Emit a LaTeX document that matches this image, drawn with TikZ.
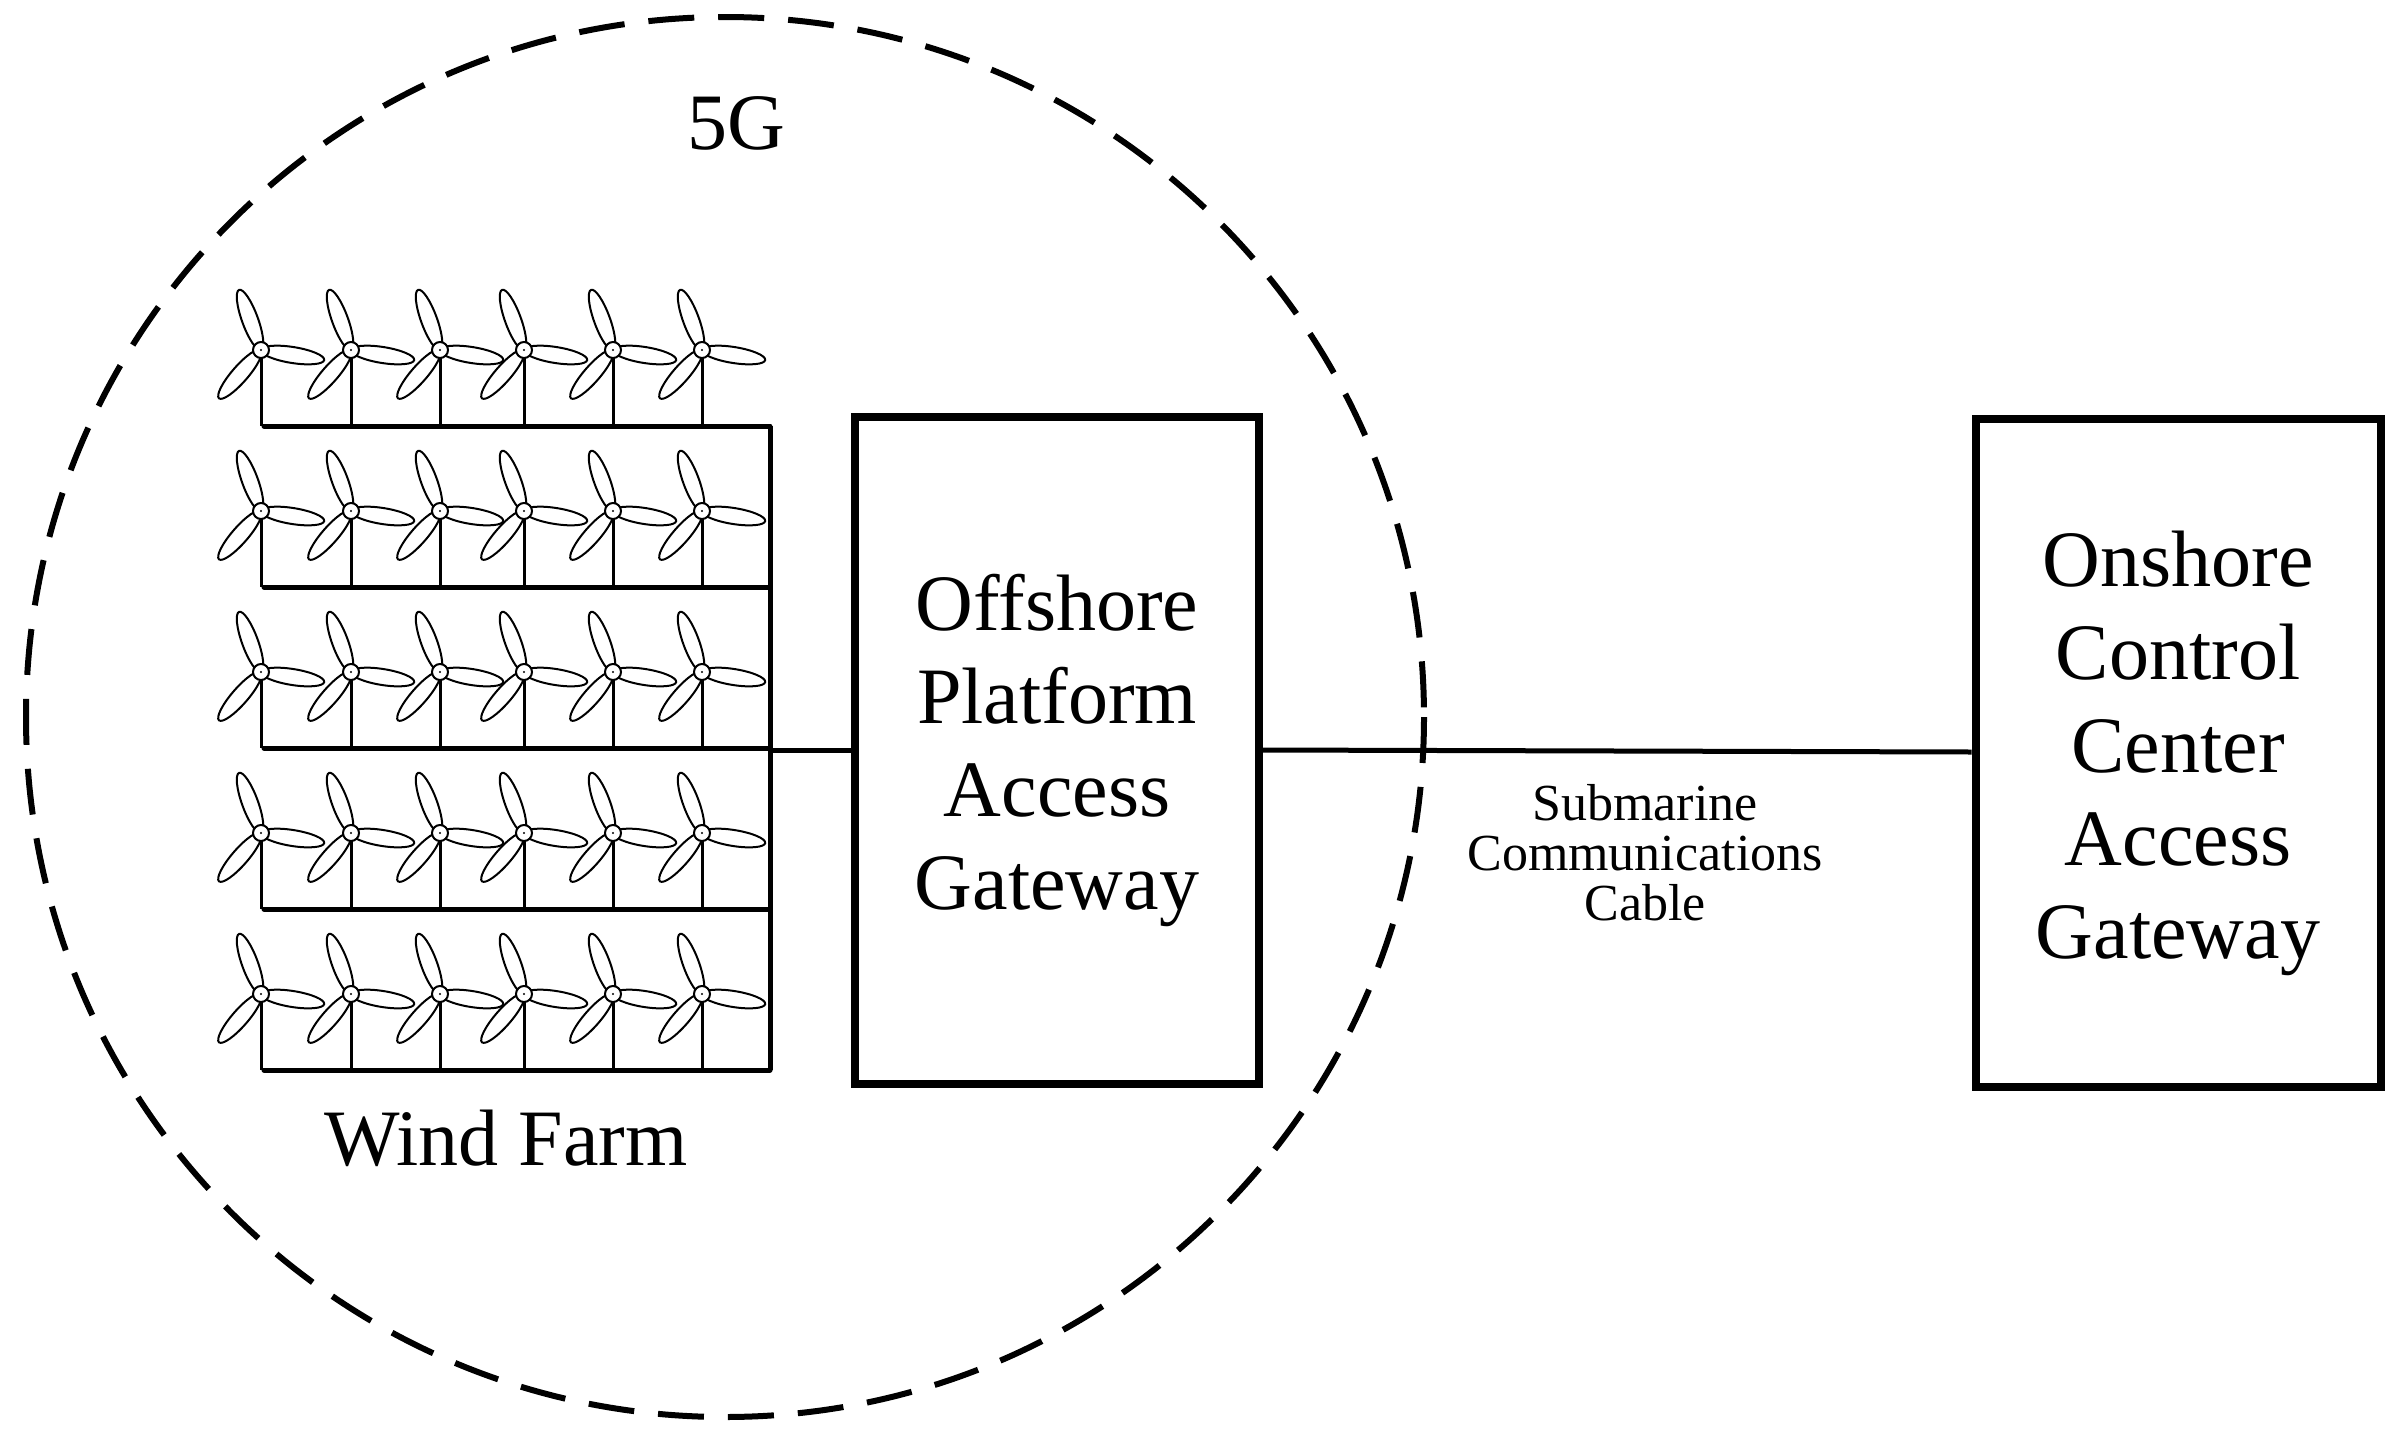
\documentclass[tikz,border=0pt]{standalone}
\usepackage{fontspec}
\setmainfont{Liberation Serif}
\begin{document}
\begin{tikzpicture}[x=1pt,y=-1pt,
  box/.style={draw,line width=8pt},
  wire/.style={line width=5pt},
  blade/.style={draw,line width=2pt,fill=white},
  big/.style={font=\fontsize{80}{93}\selectfont,align=center},
  small/.style={font=\fontsize{52}{50}\selectfont,align=center}]
\useasboundingbox (0,0) rectangle (2404,1440);
\draw[line width=6pt,dash pattern=on 46pt off 24pt] (725,717) ellipse [x radius=699,y radius=700];
\node[big] (fiveg) at (736,123) {5G};
\coordinate (busT) at (770,426);
\coordinate (busB) at (770,1070);
\draw[wire] (busT) -- (busB);
\foreach \r in {0,...,4}{
  \pgfmathsetmacro{\ry}{426+161*\r}
  \draw[wire,line cap=round] (264,\ry) -- (770,\ry);
  \foreach \hx in {261,351,440,524,613,702}{
    \pgfmathsetmacro{\hy}{\ry-76}
    \draw[line width=3pt] (\hx,\hy) -- (\hx,\ry);
    \foreach \a in {110,-9,229}{
      \begin{scope}[shift={(\hx,\hy)},rotate=\a]
        \draw[blade] (32,0) ellipse [x radius=32,y radius=8];
      \end{scope}
    }
    \draw[line width=2pt,fill=white] (\hx,\hy) circle (8);
    \fill (\hx,\hy) circle (1.2);
  }
}
\node[big] (wf) at (506,1138) {Wind Farm};
\node[box,minimum width=404,minimum height=667,inner sep=0] (off) at (1057,750) {};
\node[big] at (off.center) {Offshore\\Platform\\Access\\Gateway};
\node[box,minimum width=405,minimum height=668,inner sep=0] (on) at (2178,753) {};
\node[big] at (on.center) {Onshore\\Control\\Center\\Access\\Gateway};
\coordinate (midbus) at (770,750);
\draw[wire] (midbus) -- (off.west);
\draw[wire] (off.east |- 0,750) -- (on.west |- 0,752);
\node[small] (cable) at (1645,853) {Submarine\\Communications\\Cable};
\end{tikzpicture}
\end{document}
